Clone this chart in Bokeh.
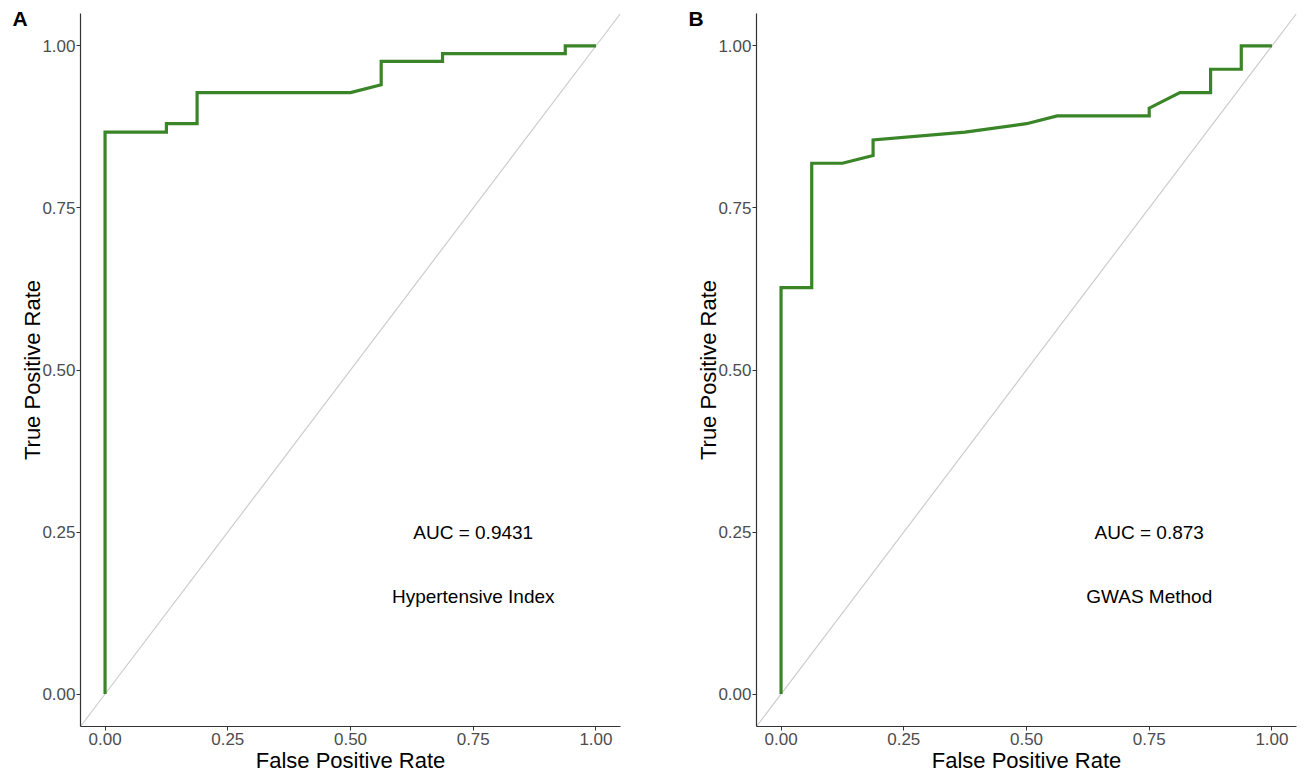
from bokeh.plotting import figure
from bokeh.layouts import row
from bokeh.models import Label, FixedTicker, Range1d
from bokeh.embed import file_html
from bokeh.resources import INLINE

# Panel A: Hypertensive Index ROC
fpr_a = [0.0, 0.0, 0.125, 0.125, 0.1875, 0.1875, 0.5, 0.5625, 0.5625, 0.6875, 0.6875, 0.9375, 0.9375, 1.0]
tpr_a = [0.0, 0.867, 0.867, 0.880, 0.880, 0.928, 0.928, 0.940, 0.976, 0.976, 0.988, 0.988, 1.0, 1.0]
auc_a = "AUC = 0.9431"
name_a = "Hypertensive Index"

# Panel B: GWAS Method ROC
fpr_b = [0.0, 0.0, 0.0625, 0.0625, 0.125, 0.1875, 0.1875, 0.375, 0.5, 0.5625, 0.75, 0.75, 0.8125, 0.875, 0.875, 0.9375, 0.9375, 1.0]
tpr_b = [0.0, 0.627, 0.627, 0.819, 0.819, 0.831, 0.855, 0.867, 0.880, 0.892, 0.892, 0.904, 0.928, 0.928, 0.964, 0.964, 1.0, 1.0]
auc_b = "AUC = 0.873"
name_b = "GWAS Method"

ticks = [0.0, 0.25, 0.5, 0.75, 1.0]
tick_labels = {0.0: "0.00", 0.25: "0.25", 0.5: "0.50", 0.75: "0.75", 1.0: "1.00"}

FONT = "Liberation Sans"
GREEN = "#3a8527"


def make_panel(fpr, tpr, auc, name, letter, width, right_border):
    p = figure(width=width, height=775, output_backend="svg", toolbar_location=None,
               x_range=Range1d(-0.05, 1.05), y_range=Range1d(-0.05, 1.05),
               min_border_left=80, min_border_right=right_border,
               min_border_top=13, min_border_bottom=49)
    p.outline_line_color = None
    p.grid.visible = False
    p.background_fill_color = "white"
    p.border_fill_color = "white"

    # diagonal reference
    p.line([-0.05, 1.05], [-0.05, 1.05], line_color="#cccccc", line_width=1.2)
    # ROC curve
    p.line(fpr, tpr, line_color=GREEN, line_width=3.2, line_join="miter")

    for ax in (p.xaxis[0], p.yaxis[0]):
        ax.ticker = FixedTicker(ticks=ticks)
        ax.major_label_overrides = tick_labels
        ax.minor_tick_line_color = None
        ax.major_tick_in = 0
        ax.major_tick_out = 4
        ax.major_tick_line_color = "#333333"
        ax.axis_line_color = "#333333"
        ax.axis_line_width = 1.2
        ax.major_label_text_font = FONT
        ax.major_label_text_font_size = "17px"
        ax.major_label_text_color = "#4d4d4d"
        ax.axis_label_text_font = FONT
        ax.axis_label_text_font_size = "22px"
        ax.axis_label_text_font_style = "normal"
        ax.axis_label_text_color = "black"
        ax.major_label_standoff = 2
    p.xaxis[0].axis_label_standoff = 0
    p.yaxis[0].major_label_standoff = 1
    p.yaxis[0].axis_label_standoff = -6

    p.xaxis.axis_label = "False Positive Rate"
    p.yaxis.axis_label = "True Positive Rate"

    p.add_layout(Label(x=0.75, y=0.25, text=auc, text_font=FONT, text_font_size="19px",
                       text_align="center", text_baseline="middle", text_color="black"))
    p.add_layout(Label(x=0.75, y=0.15, text=name, text_font=FONT, text_font_size="19px",
                       text_align="center", text_baseline="middle", text_color="black"))
    lab = Label(x=10, y=708, x_units="screen", y_units="screen", text=letter)
    lab.text_font = FONT
    lab.text_font_size = "21px"
    lab.text_font_style = "bold"
    lab.text_align = "left"
    lab.text_baseline = "middle"
    lab.text_color = "black"
    p.add_layout(lab, "left")
    return p


pa = make_panel(fpr_a, tpr_a, auc_a, name_a, "A", 676, 56)
pb = make_panel(fpr_b, tpr_b, auc_b, name_b, "B", 628, 8)

layout = row(pa, pb, spacing=0)
open("out.html", "w").write(file_html(layout, INLINE))
